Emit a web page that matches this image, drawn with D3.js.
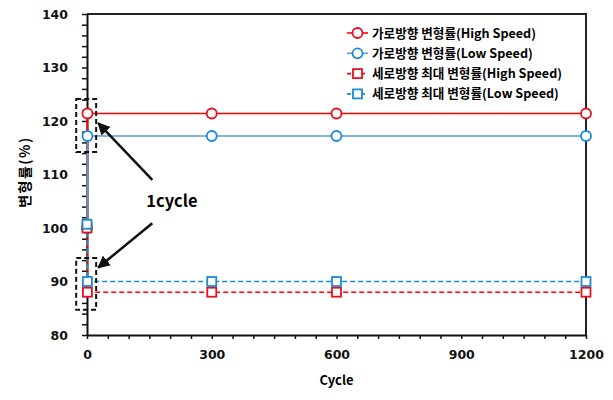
<!DOCTYPE html>
<html>
<head>
<meta charset="utf-8">
<script src="https://cdn.jsdelivr.net/npm/d3@7"></script>
<style>
  body { margin: 0; background: #fff; }
  svg { display: block; }
  .axis text { font-family: "DejaVu Sans", sans-serif; font-weight: bold; font-size: 12.5px; fill: #111; }
</style>
</head>
<body>
<div id="chart"></div>
<script>
// cycle points (0 = initial, 1 = after first cycle)
const cycles = [0, 1, 300, 600, 1200];
const hsWidth = [100, 121.4, 121.4, 121.4, 121.4];   // 가로방향 변형률(High Speed)
const lsWidth = [100, 117.2, 117.2, 117.2, 117.2];   // 가로방향 변형률(Low Speed)
const hsLength = [100, 88, 88, 88, 88];              // 세로방향 최대 변형률(High Speed)
const lsLength = [100.7, 90, 90, 90, 90];            // 세로방향 최대 변형률(Low Speed)
const xTickLabels = [0, 300, 600, 900, 1200];
const yTickLabels = [80, 90, 100, 110, 120, 130, 140];

const series = [
  { name: "가로방향 변형률(High Speed)", values: hsWidth, color: "#ff0000", mark: "#e8101c", shape: "circle", dash: null },
  { name: "가로방향 변형률(Low Speed)", values: lsWidth, color: "#5b9bd5", mark: "#1b8ad6", shape: "circle", dash: null },
  { name: "세로방향 최대 변형률(High Speed)", values: hsLength, color: "#ff0000", mark: "#e8101c", shape: "square", dash: "5,3" },
  { name: "세로방향 최대 변형률(Low Speed)", values: lsLength, color: "#1b8ad6", mark: "#1b8ad6", shape: "square", dash: "5,3" }
];

const width = 613, height = 400;
const margin = { top: 14, right: 27, bottom: 65, left: 87 };

const svg = d3.select("#chart").append("svg")
  .attr("width", width)
  .attr("height", height);

const x = d3.scaleLinear().domain([0, 1200]).range([margin.left, width - margin.right]);
const y = d3.scaleLinear().domain([80, 140]).range([height - margin.bottom, margin.top]);

// frame (top + right)
svg.append("path")
  .attr("d", `M${x(0)},${y(140)}H${x(1200)}V${y(80)}`)
  .attr("fill", "none")
  .attr("stroke", "#222")
  .attr("stroke-width", 2);

// y axis
svg.append("g")
  .attr("class", "axis")
  .attr("transform", `translate(${x(0)},0)`)
  .call(d3.axisLeft(y)
    .tickValues(d3.range(80, 141, 2))
    .tickSize(5)
    .tickSizeOuter(0)
    .tickPadding(14)
    .tickFormat(d => yTickLabels.includes(d) ? d : ""));

// x axis
svg.append("g")
  .attr("class", "axis")
  .attr("transform", `translate(0,${y(80)})`)
  .call(d3.axisBottom(x)
    .tickValues(d3.range(0, 1201, 50))
    .tickSize(4)
    .tickSizeOuter(0)
    .tickPadding(11)
    .tickFormat(d => xTickLabels.includes(d) ? d : ""));

svg.selectAll(".axis .domain").attr("stroke", "#111").attr("stroke-width", 2);
svg.selectAll(".axis .tick line").attr("stroke", "#111").attr("stroke-width", 1.5);

// axis titles
svg.append("text")
  .attr("x", x(600))
  .attr("y", 385)
  .attr("text-anchor", "middle")
  .style("font-family", "'Noto Sans CJK KR', sans-serif")
  .style("font-weight", "bold")
  .style("font-size", "13px")
  .text("Cycle");

svg.append("text")
  .attr("transform", `translate(30,172) rotate(-90)`)
  .attr("text-anchor", "middle")
  .style("font-family", "'Noto Sans CJK KR', sans-serif")
  .style("font-weight", "bold")
  .style("font-size", "14px")
  .style("letter-spacing", "1.5px")
  .text("변형률(%)");

// lines
const line = d3.line()
  .x((d, i) => x(cycles[i]))
  .y(d => y(d));

series.forEach(s => {
  svg.append("path")
    .attr("d", line(s.values))
    .attr("fill", "none")
    .attr("stroke", s.color)
    .attr("stroke-width", 1.6)
    .attr("stroke-dasharray", s.dash);
});

// markers
function drawMarker(g, shape, cx, cy, color) {
  if (shape === "circle") {
    g.append("circle")
      .attr("cx", cx).attr("cy", cy).attr("r", 5)
      .attr("fill", "#fff").attr("stroke", color).attr("stroke-width", 1.8);
  } else {
    g.append("rect")
      .attr("x", cx - 4.5).attr("y", cy - 4.5)
      .attr("width", 9).attr("height", 9)
      .attr("fill", "#fff").attr("stroke", color).attr("stroke-width", 1.8);
  }
}

series.forEach(s => {
  const g = svg.append("g");
  s.values.forEach((v, i) => {
    if (cycles[i] === 1) return; // 1-cycle point drawn on top afterwards
    drawMarker(g, s.shape, x(cycles[i]), y(v), s.mark);
  });
});
series.forEach(s => {
  const i = cycles.indexOf(1);
  drawMarker(svg, s.shape, x(cycles[i]), y(s.values[i]), s.mark);
});

// legend
const legend = svg.append("g").attr("transform", "translate(347,33)");
series.forEach((s, i) => {
  const row = legend.append("g").attr("transform", `translate(0,${i * 20.3})`);
  row.append("line")
    .attr("x1", 0).attr("x2", 21)
    .attr("stroke", s.color).attr("stroke-width", 1.6)
    .attr("stroke-dasharray", s.dash ? "4,3" : null);
  drawMarker(row, s.shape, 10.5, 0, s.mark);
  row.append("text")
    .attr("x", 25)
    .attr("dy", "0.36em")
    .style("font-family", "'Noto Sans CJK KR', sans-serif")
    .style("font-weight", "bold")
    .style("font-size", "12.6px")
    .text(s.name);
});

// annotation: dashed boxes around 1-cycle points + arrows
const boxes = [
  { x0: -26, x1: 22, y0: 124.1, y1: 114.2 },
  { x0: -26, x1: 22, y0: 94.4, y1: 84.7 }
];
boxes.forEach(b => {
  svg.append("rect")
    .attr("x", x(b.x0)).attr("y", y(b.y0))
    .attr("width", x(b.x1) - x(b.x0))
    .attr("height", y(b.y1) - y(b.y0))
    .attr("fill", "none")
    .attr("stroke", "#111")
    .attr("stroke-width", 2)
    .attr("stroke-dasharray", "5,3");
});

const defs = svg.append("defs");
defs.append("marker")
  .attr("id", "arrow")
  .attr("viewBox", "0 0 10 10")
  .attr("refX", 9).attr("refY", 5)
  .attr("markerWidth", 5).attr("markerHeight", 5)
  .attr("orient", "auto")
  .append("path")
  .attr("d", "M0,0L10,5L0,10z")
  .attr("fill", "#111");

const arrows = [
  { from: [157, 109], to: [27, 119.6] },
  { from: [157, 100.9], to: [27, 92.6] }
];
arrows.forEach(a => {
  svg.append("line")
    .attr("x1", x(a.from[0])).attr("y1", y(a.from[1]))
    .attr("x2", x(a.to[0])).attr("y2", y(a.to[1]))
    .attr("stroke", "#111")
    .attr("stroke-width", 2.5)
    .attr("marker-end", "url(#arrow)");
});

svg.append("text")
  .attr("x", x(204))
  .attr("y", y(103.9))
  .attr("text-anchor", "middle")
  .style("font-family", "'Noto Sans CJK KR', sans-serif")
  .style("font-weight", "bold")
  .style("font-size", "16.5px")
  .text("1cycle");
</script>
</body>
</html>
